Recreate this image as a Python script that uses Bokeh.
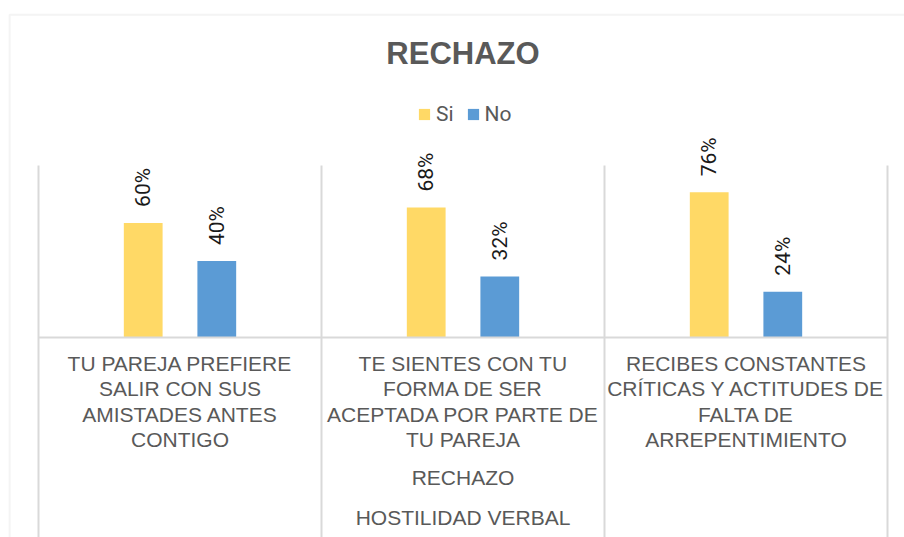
from math import pi

from bokeh.plotting import figure
from bokeh.models import (Range1d, Label, Legend, LegendItem, BoxAnnotation, ColumnDataSource)
from bokeh.transform import dodge
from bokeh.core.properties import value
from bokeh.embed import file_html
from bokeh.resources import INLINE

# ---------------- data ----------------
TITLE = "RECHAZO"
CATEGORIES = [
    "TU PAREJA PREFIERE\nSALIR CON SUS\nAMISTADES ANTES\nCONTIGO",
    "TE SIENTES CON TU\nFORMA DE SER\nACEPTADA POR PARTE DE\nTU PAREJA",
    "RECIBES CONSTANTES\nCRÍTICAS Y ACTITUDES DE\nFALTA DE\nARREPENTIMIENTO",
]
GROUP_LABEL = "RECHAZO"
SUPER_GROUP_LABEL = "HOSTILIDAD VERBAL"
SERIES = ["Si", "No"]
SI_VALUES = [0.60, 0.68, 0.76]
NO_VALUES = [0.40, 0.32, 0.24]
Y_MAX = 0.9

# ---------------- style / layout ----------------
YELLOW = "#FFD966"
BLUE = "#5B9BD5"
GRAY_TEXT = "#595959"
LINE_GRAY = "#D9D9D9"
W, H = 904, 537
PLOT_LEFT, PLOT_RIGHT = 38, 887          # plot area, pixels
AXIS_Y = 337                              # y of the category axis, pixels
PX_PER_UNIT_Y = 191.0
N = len(CATEGORIES)
PX_PER_CAT = (PLOT_RIGHT - PLOT_LEFT) / N
BAR_W = 0.137
OFF = 0.13

x_range = Range1d(-PLOT_LEFT / PX_PER_CAT, N + (W - PLOT_RIGHT) / PX_PER_CAT)
y_range = Range1d(-(H - AXIS_Y) / PX_PER_UNIT_Y, AXIS_Y / PX_PER_UNIT_Y)

centers = [i + 0.5 for i in range(N)]
src = ColumnDataSource(dict(
    x=centers,
    cat=CATEGORIES,
    si=SI_VALUES,
    no=NO_VALUES,
    si_lbl=[f"{round(v * 100)}%" for v in SI_VALUES],
    no_lbl=[f"{round(v * 100)}%" for v in NO_VALUES],
))

p = figure(width=W, height=H, x_range=x_range, y_range=y_range,
           output_backend="svg", toolbar_location=None,
           x_axis_location=None, y_axis_location=None,
           min_border_left=0, min_border_right=0,
           min_border_top=0, min_border_bottom=0)
p.xgrid.visible = False
p.ygrid.visible = False
p.outline_line_color = None
p.background_fill_color = "white"
p.border_fill_color = "white"

# outer chart border (only top and left edges fall inside the picture)
p.add_layout(BoxAnnotation(left=9.2, right=W + 20, top=14.2, bottom=H + 20,
                           left_units="canvas", right_units="canvas",
                           top_units="canvas", bottom_units="canvas",
                           fill_alpha=0, line_color=LINE_GRAY, line_width=2))

# category separators: from the top of the plot area down through the labels
bounds = list(range(N + 1))
p.segment(x0=bounds, x1=bounds, y0=Y_MAX, y1=y_range.start,
          line_color=LINE_GRAY, line_width=2)

# bars
r_si = p.vbar(x=dodge("x", -OFF), top="si", width=BAR_W, source=src,
              fill_color=YELLOW, line_color=None)
r_no = p.vbar(x=dodge("x", OFF), top="no", width=BAR_W, source=src,
              fill_color=BLUE, line_color=None)

# horizontal category axis line
p.segment(x0=[0], x1=[N], y0=[0], y1=[0], line_color=LINE_GRAY, line_width=2)

# data labels
for col, lbl, off in (("si", "si_lbl", -OFF), ("no", "no_lbl", OFF)):
    p.text(x=dodge("x", off), y=col, text=lbl, source=src,
           angle=pi / 2, text_align="left", text_baseline="middle", y_offset=-16,
           text_font=value("Roboto"), text_font_size="21px", text_color="#1a1a1a")

# category labels
p.text(x="x", y=0, text="cat", source=src, text_align="center", text_baseline="top",
       y_offset=14.5, text_line_height=1.10,
       text_font=value("Liberation Sans"), text_font_size="21px", text_color=GRAY_TEXT)

# group labels (centred under all categories)
grp_src = ColumnDataSource(dict(x=[N / 2] * 2,
                                txt=[GROUP_LABEL, SUPER_GROUP_LABEL],
                                off=[128, 168]))
p.text(x="x", y=0, text="txt", y_offset="off", source=grp_src, text_align="center",
       text_baseline="top", text_font=value("Liberation Sans"),
       text_font_size="21px", text_color=GRAY_TEXT)

# title
p.add_layout(Label(x=(PLOT_LEFT + PLOT_RIGHT) / 2, y=H - 35.7, x_units="screen", y_units="screen",
                   text=TITLE, text_align="center", text_baseline="top",
                   text_font="Liberation Sans", text_font_style="bold",
                   text_font_size="31px", text_color=GRAY_TEXT))

# legend
legend = Legend(items=[LegendItem(label=SERIES[0], renderers=[r_si]),
                       LegendItem(label=SERIES[1], renderers=[r_no])],
                orientation="horizontal", location=(417, H - 125.5),
                glyph_width=14, glyph_height=14, label_standoff=5, spacing=12,
                label_width=0, label_height=14, padding=0, margin=0,
                border_line_color=None, background_fill_alpha=0,
                label_text_font="Roboto", label_text_font_size="21px",
                label_text_color=GRAY_TEXT)
p.add_layout(legend, "center")

open("out.html", "w").write(file_html(p, INLINE))
